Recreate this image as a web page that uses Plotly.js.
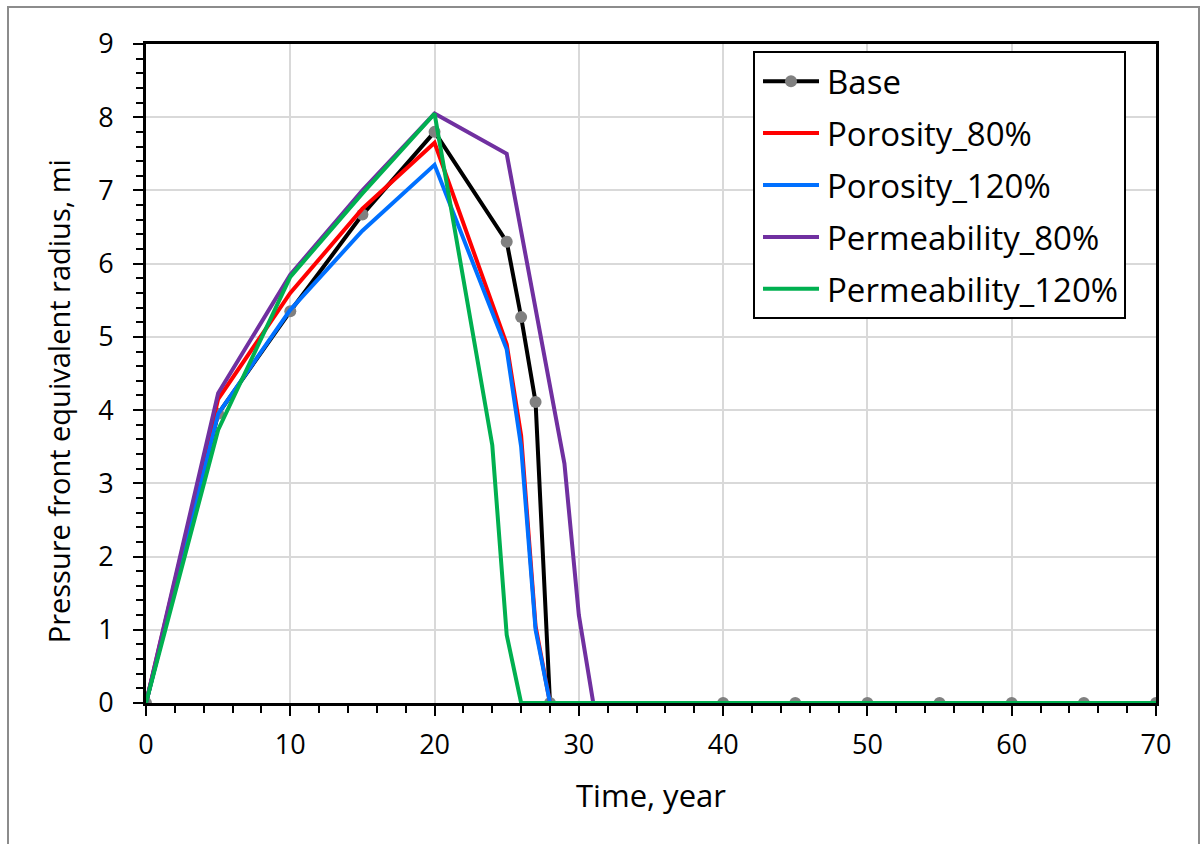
<!DOCTYPE html>
<html>
<head>
<meta charset="utf-8">
<script src="https://cdn.plot.ly/plotly-3.0.1.min.js"></script>
<style>
  html, body { margin: 0; padding: 0; background: #fff; overflow: hidden; }
  #chart { width: 1204px; height: 844px; }
  #frame { position: absolute; left: 7px; top: 6px; width: 1189px; height: 860px;
           border: 2px solid #8c8c8c; pointer-events: none; }
</style>
</head>
<body>
<div id="chart"></div>
<div id="frame"></div>
<script>
// Data
const baseYears = [0, 5, 10, 15, 20, 25, 26, 27, 28, 40, 45, 50, 55, 60, 65, 70];
const baseRadius = [0, 3.95, 5.35, 6.67, 7.8, 6.3, 5.27, 4.11, 0, 0, 0, 0, 0, 0, 0, 0];

const por80Years = [0, 5, 10, 15, 20, 25, 26, 27, 28, 70];
const por80Radius = [0, 4.15, 5.6, 6.75, 7.65, 4.9, 3.65, 1.05, 0, 0];

const por120Years = [0, 5, 10, 15, 20, 25, 26, 27, 28, 70];
const por120Radius = [0, 3.95, 5.37, 6.45, 7.35, 4.83, 3.5, 1.0, 0, 0];

const perm80Years = [0, 5, 10, 15, 20, 25, 29, 30, 31, 70];
const perm80Radius = [0, 4.23, 5.85, 7.0, 8.05, 7.5, 3.27, 1.2, 0, 0];

const perm120Years = [0, 5, 10, 15, 20, 24, 25, 26, 70];
const perm120Radius = [0, 3.73, 5.82, 6.96, 8.05, 3.52, 0.93, 0, 0];

const seriesNames = ['Base', 'Porosity_80%', 'Porosity_120%', 'Permeability_80%', 'Permeability_120%'];
const xTitle = 'Time, year';
const yTitle = 'Pressure front equivalent radius, mi';

const FONT = '"Open Sans", "Noto Sans", sans-serif';

function line(name, x, y, color, group) {
  return { type: 'scatter', mode: 'lines', name: name, x: x, y: y,
           line: { color: color, width: 4 }, legendgroup: group };
}

const traces = [
  { type: 'scatter', mode: 'lines+markers', name: seriesNames[0], x: baseYears, y: baseRadius,
    line: { color: '#000000', width: 4 }, marker: { color: '#808080', size: 12 }, legendgroup: 'g1' },
  line(seriesNames[1], por80Years, por80Radius, '#ff0000', 'g2'),
  line(seriesNames[2], por120Years, por120Radius, '#0070ff', 'g3'),
  line(seriesNames[3], perm80Years, perm80Radius, '#7030a0', 'g4'),
  line(seriesNames[4], perm120Years, perm120Radius, '#00b050', 'g5')
];

const layout = {
  width: 1204, height: 844,
  margin: { l: 146, r: 48, t: 44, b: 141 },
  paper_bgcolor: '#ffffff', plot_bgcolor: '#ffffff',
  font: { family: FONT, size: 27, color: '#000' },
  showlegend: true,
  legend: {
    x: 0.601, y: 0.989, xanchor: 'left', yanchor: 'top',
    bgcolor: '#ffffff', bordercolor: '#000000', borderwidth: 2,
    font: { family: FONT, size: 33, color: '#000' },
    tracegroupgap: 6, traceorder: 'grouped', itemwidth: 62
  },
  xaxis: {
    range: [0, 70], dtick: 10, tick0: 0,
    showgrid: true, gridcolor: '#d9d9d9', gridwidth: 2,
    showline: true, linecolor: '#000', linewidth: 3, mirror: true,
    ticks: 'outside', ticklen: 10, tickwidth: 2, tickcolor: '#000',
    minor: { dtick: 2, ticks: 'outside', ticklen: 7, tickwidth: 2, tickcolor: '#000', showgrid: false },
    zeroline: false, ticklabelstandoff: 6,
    tickfont: { family: FONT, size: 27, color: '#000' },
    title: { text: xTitle, font: { family: FONT, size: 31, color: '#000' }, standoff: 24 }
  },
  yaxis: {
    range: [0, 9], dtick: 1, tick0: 0,
    showgrid: true, gridcolor: '#d9d9d9', gridwidth: 2,
    showline: true, linecolor: '#000', linewidth: 3, mirror: true,
    ticks: 'outside', ticklen: 10, tickwidth: 2, tickcolor: '#000',
    minor: { dtick: 0.2, ticks: 'outside', ticklen: 7, tickwidth: 2, tickcolor: '#000', showgrid: false },
    zeroline: false, ticklabelstandoff: 14,
    tickfont: { family: FONT, size: 27, color: '#000' }
  },
  annotations: [{
    text: yTitle, textangle: -90, showarrow: false,
    xref: 'paper', yref: 'paper', x: -0.087, y: 0.458,
    xanchor: 'center', yanchor: 'middle',
    font: { family: FONT, size: 29, color: '#000' }
  }]
};

Plotly.newPlot('chart', traces, layout, { staticPlot: true, displayModeBar: false }).then(function (gd) {
  // Lengthen the legend line samples to match the reference's longer swatches
  try {
    gd.querySelectorAll('.legend .legendlines path').forEach(function (p) {
      p.setAttribute('d', 'M8,0h56');
    });
    gd.querySelectorAll('.legend .legendpoints').forEach(function (g) {
      g.querySelectorAll('path.scatterpts').forEach(function (m) {
        m.setAttribute('transform', 'translate(36,0)');
      });
    });
  } catch (e) {}
});
</script>
</body>
</html>
